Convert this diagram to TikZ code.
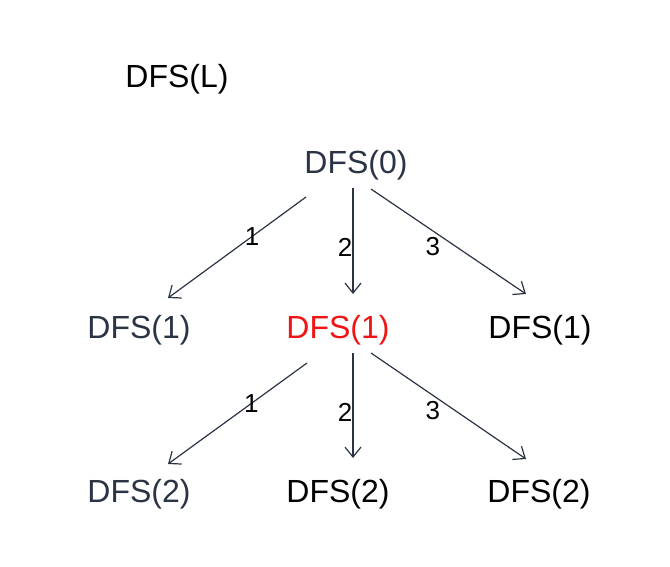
\documentclass[tikz,border=0pt]{standalone}
\usepackage{fontspec}
\setmainfont{Liberation Sans}
\usetikzlibrary{arrows.meta}

\definecolor{slate}{RGB}{42,52,68}
\definecolor{pickred}{RGB}{240,20,20}

\begin{document}
\begin{tikzpicture}[x=1pt, y=-1pt,
    dfs/.style={anchor=base, inner sep=0pt, font=\fontsize{32}{38}\selectfont},
    edgelbl/.style={inner sep=0pt, font=\fontsize{26}{30}\selectfont},
    tree/.style={draw=slate, line width=1.2pt, -{Straight Barb[length=10pt, width=16pt]}}]
    \useasboundingbox (0,0) rectangle (670,566);

    % Level label
    \node[dfs] (lvl) at (177,87) {DFS(L)};

    % Nodes
    \node[dfs, text=slate] (d0) at (356,173) {DFS(0)};
    \node[dfs, text=slate] (d1a) at (139,338) {DFS(1)};
    \node[dfs, text=pickred] (d1b) at (338,338) {DFS(1)};
    \node[dfs] (d1c) at (540,338) {DFS(1)};
    \node[dfs, text=slate] (d2a) at (139,502) {DFS(2)};
    \node[dfs] (d2b) at (338,502) {DFS(2)};
    \node[dfs] (d2c) at (539,502) {DFS(2)};

    % Branches of DFS(0)
    \draw[tree] ([shift={(-50,24)}]d0.base) -- ([shift={(29,-40)}]d1a.base)
        node[edgelbl, pos=.39] {1};
    \draw[tree] ([shift={(-3,15)}]d0.base) -- ([shift={(15,-44)}]d1b.base)
        node[edgelbl, pos=.56, left] {2};
    \draw[tree] ([shift={(15,16)}]d0.base) -- ([shift={(-14,-44)}]d1c.base)
        node[edgelbl, pos=.45, below left] {3};

    % Branches of the red DFS(1)
    \draw[tree] ([shift={(-31,25)}]d1b.base) -- ([shift={(29,-38)}]d2a.base)
        node[edgelbl, pos=.4] {1};
    \draw[tree] ([shift={(15,15)}]d1b.base) -- ([shift={(15,-44)}]d2b.base)
        node[edgelbl, pos=.57, left] {2};
    \draw[tree] ([shift={(33,15)}]d1b.base) -- ([shift={(-13,-43)}]d2c.base)
        node[edgelbl, pos=.45, below left] {3};

\end{tikzpicture}
\end{document}
